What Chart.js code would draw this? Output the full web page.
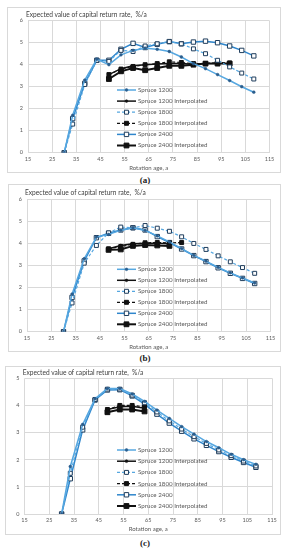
<!DOCTYPE html>
<html><head><meta charset="utf-8">
<script src="https://cdn.jsdelivr.net/npm/chart.js@4"></script>
<style>
html,body{margin:0;padding:0;background:#fff;width:291px;height:550px;overflow:hidden;position:relative}
.box{position:absolute;border:1px solid #d9d9d9;box-sizing:border-box}
canvas{position:absolute}
.ttl{position:absolute;font-family:Lato,sans-serif;font-size:6.6px;color:#404040;white-space:pre;line-height:8px;height:8px}
.cap{position:absolute;font-family:'Liberation Serif',serif;font-weight:bold;font-size:9px;color:#222;width:40px;text-align:center;line-height:10px;height:10px}
</style></head><body>
<script>
// ---------------- DATA ----------------
const chartTitle = 'Expected value of capital return rate,  %/a';
const xAxisTitle = 'Rotation age, a';
const seriesNames = ['Spruce 1200','Spruce 1200 Interpolated','Spruce 1800','Spruce 1800 Interpolated','Spruce 2400','Spruce 2400 Interpolated'];
const panelLabels = ['(a)','(b)','(c)'];
const xTicks = [15,25,35,45,55,65,75,85,95,105,115];
const yTicksAB = [0,1,2,3,4,5,6];
const yTicksC = [0,1,2,3,4,5];

const ages = [30,33.5,38.5,43.5,48.5,53.5,58.5,63.5,68.5,73.5,78.5,83.5,88.5,93.5,98.5,103.5,108.5];

// panel (a)
const a1200 = [0,1.7,3.3,4.25,4.0,4.45,4.65,4.75,4.7,4.6,4.35,4.05,3.82,3.55,3.28,3.0,2.75];
const a1800 = [0,1.3,3.1,4.2,4.15,4.65,4.6,4.85,4.95,5.05,4.95,4.72,4.5,4.2,3.9,3.62,3.35];
const a2400 = [0,1.55,3.15,4.2,4.2,4.7,4.97,4.78,4.93,5.05,4.95,5.03,5.07,5.0,4.85,4.65,4.4];
const a1200iAges = [48.5,53.5,58.5,63.5,68.5,73.5,78.5,83.5];
const a1200i = [3.55,3.82,3.95,4.0,4.03,4.05,4.05,4.02];
const a1800iAges = [48.5,53.5,58.5,63.5,68.5,73.5,78.5,83.5,88.5,93.5,98.5];
const a1800i = [3.55,3.8,3.92,4.0,4.05,4.13,4.1,4.05,4.05,4.1,4.08];
const a2400iAges = [48.5,53.5,58.5,63.5,68.5,73.5,78.5,83.5,88.5,93.5,98.5];
const a2400i = [3.35,3.7,3.85,3.75,3.85,3.95,3.95,4.0,4.05,4.05,4.05];

// panel (b)
const b1200 = [0,1.7,3.3,4.28,4.4,4.58,4.7,4.58,4.33,4.06,3.76,3.45,3.19,2.91,2.66,2.43,2.2];
const b1800 = [0,1.3,3.1,3.9,4.47,4.73,4.7,4.8,4.68,4.54,4.29,3.99,3.72,3.43,3.16,2.9,2.64];
const b2400 = [0,1.55,3.2,4.25,4.45,4.6,4.7,4.6,4.3,4.03,3.74,3.44,3.17,2.89,2.64,2.41,2.18];
const b1200iAges = [48.5,53.5,58.5,63.5,68.5,73.5];
const b1200i = [3.75,3.9,3.98,4.0,4.0,3.98];
const b1800iAges = [48.5,53.5,58.5,63.5,68.5,73.5,78.5];
const b1800i = [3.75,3.85,3.95,4.02,4.03,4.02,4.03];
const b2400iAges = [48.5,53.5,58.5,63.5,68.5,73.5];
const b2400i = [3.7,3.72,3.88,3.92,3.9,3.88];

// panel (c)
const c1200 = [0,1.75,3.3,4.25,4.62,4.62,4.42,4.15,3.83,3.52,3.22,2.94,2.67,2.44,2.2,2.0,1.83];
const c1800 = [0,1.5,3.2,4.22,4.6,4.6,4.38,4.1,3.76,3.43,3.13,2.85,2.6,2.36,2.15,1.95,1.77];
const c2400 = [0,1.3,3.1,4.2,4.57,4.58,4.35,4.05,3.68,3.35,3.05,2.77,2.53,2.3,2.09,1.9,1.72];
const cIAges = [48.5,53.5,58.5,63.5];
const c1200i = [3.85,3.95,3.97,3.9];
const c1800i = [3.85,4.0,4.0,3.95];
const c2400i = [3.75,3.85,3.85,3.78];

// ---------------- STYLES / LAYOUT ----------------
const blueL = '#56a7e0', blueD = '#2f86cc', sqEdge = '#1f3d5c', blk = '#111111';
const styles = [
  {borderColor:blueL, borderWidth:1.5, borderDash:[], pointStyle:'circle', pointRadius:1.4, pointBackgroundColor:'#2a5d8c', pointBorderColor:'#2a5d8c', pointBorderWidth:0.5},
  {borderColor:blk, borderWidth:1.5, borderDash:[], pointStyle:'circle', pointRadius:1.4, pointBackgroundColor:blk, pointBorderColor:blk, pointBorderWidth:0.5},
  {borderColor:blueL, borderWidth:1.2, borderDash:[3,2], pointStyle:'rect', pointRadius:2.8, pointBackgroundColor:'#ffffff', pointBorderColor:sqEdge, pointBorderWidth:1},
  {borderColor:blk, borderWidth:1.2, borderDash:[3,2], pointStyle:'rect', pointRadius:2.8, pointBackgroundColor:blk, pointBorderColor:blk, pointBorderWidth:1},
  {borderColor:blueD, borderWidth:1.5, borderDash:[], pointStyle:'rect', pointRadius:3.1, pointBackgroundColor:'#ffffff', pointBorderColor:sqEdge, pointBorderWidth:1},
  {borderColor:blk, borderWidth:2, borderDash:[], pointStyle:'rect', pointRadius:3.4, pointBackgroundColor:blk, pointBorderColor:blk, pointBorderWidth:1}
];

const panels = [
  {box:{l:7,t:7,w:274,h:166}, area:{l:28,r:269.5,t:20.7,b:152.7}, yTicks:yTicksAB, titleAt:{x:26,y:14}, capY:180, axTitleY:168, legend:{x:117,y:90,dy:11.1},
   series:[[ages,a1200],[a1200iAges,a1200i],[ages,a1800],[a1800iAges,a1800i],[ages,a2400],[a2400iAges,a2400i]]},
  {box:{l:8,t:184,w:273,h:168}, area:{l:27,r:270.5,t:199,b:331.7}, yTicks:yTicksAB, titleAt:{x:25,y:191.7}, capY:358, axTitleY:347, legend:{x:117,y:269.3,dy:11},
   series:[[ages,b1200],[b1200iAges,b1200i],[ages,b1800],[b1800iAges,b1800i],[ages,b2400],[b2400iAges,b2400i]]},
  {box:{l:5,t:366,w:276,h:169}, area:{l:24.5,r:272,t:378.3,b:514}, yTicks:yTicksC, titleAt:{x:22.7,y:372}, capY:543, axTitleY:529.5, legend:{x:117,y:450,dy:11.2},
   series:[[ages,c1200],[cIAges,c1200i],[ages,c1800],[cIAges,c1800i],[ages,c2400],[cIAges,c2400i]]}
];

const legendPlugin = {
  id:'insideLegend',
  afterDraw(chart, args, opts){
    const ctx = chart.ctx;
    ctx.save();
    chart.data.datasets.forEach((ds,i)=>{
      const y = opts.y + i*opts.dy, x0 = opts.x, x1 = opts.x + 19, xm = (x0+x1)/2;
      ctx.beginPath();
      ctx.setLineDash(ds.borderDash||[]);
      ctx.strokeStyle = ds.borderColor; ctx.lineWidth = ds.borderWidth;
      ctx.moveTo(x0,y); ctx.lineTo(x1,y); ctx.stroke();
      ctx.setLineDash([]);
      ctx.fillStyle = ds.pointBackgroundColor; ctx.strokeStyle = ds.pointBorderColor; ctx.lineWidth = ds.pointBorderWidth;
      if (ds.pointStyle==='rect'){
        const s = ds.pointRadius*Math.SQRT1_2;
        ctx.beginPath(); ctx.rect(xm-s,y-s,2*s,2*s); ctx.fill(); ctx.stroke();
      } else {
        ctx.beginPath(); ctx.arc(xm,y,ds.pointRadius,0,Math.PI*2); ctx.fill(); ctx.stroke();
      }
      ctx.fillStyle = '#595959'; ctx.font = '6.2px Lato, sans-serif';
      ctx.textAlign = 'left'; ctx.textBaseline = 'middle';
      ctx.fillText(ds.label, x1+2, y);
    });
    ctx.restore();
  }
};

panels.forEach((p,pi)=>{
  const bx = document.createElement('div');
  bx.className='box';
  Object.assign(bx.style,{left:p.box.l+'px',top:p.box.t+'px',width:p.box.w+'px',height:p.box.h+'px'});
  document.body.appendChild(bx);
  const cv = document.createElement('canvas');
  cv.width = p.box.w; cv.height = p.box.h;
  Object.assign(cv.style,{left:p.box.l+'px',top:p.box.t+'px',width:p.box.w+'px',height:p.box.h+'px'});
  document.body.appendChild(cv);

  const t = document.createElement('div'); t.className='ttl'; t.textContent = chartTitle;
  Object.assign(t.style,{left:p.titleAt.x+'px',top:(p.titleAt.y-4)+'px'});
  document.body.appendChild(t);
  const c = document.createElement('div'); c.className='cap'; c.textContent = panelLabels[pi];
  Object.assign(c.style,{left:(145-20)+'px',top:(p.capY-5)+'px'});
  document.body.appendChild(c);

  const yW = p.area.l - p.box.l;
  const xH = p.box.h - (p.area.b - p.box.t);
  const padTop = p.area.t - p.box.t;
  const padRight = p.box.w - (p.area.r - p.box.l);
  const axBottomPad = (p.box.t + p.box.h) - p.axTitleY - 3.6;

  const datasets = p.series.map((s,i)=>Object.assign({
    label: seriesNames[i],
    data: s[0].map((x,k)=>({x:x,y:s[1][k]})),
    fill:false, tension:0, pointHoverRadius:0
  }, styles[i]));

  new Chart(cv,{
    type:'line',
    data:{datasets},
    options:{
      responsive:false, animation:false, devicePixelRatio:1,
      layout:{padding:{left:0,top:padTop,right:padRight,bottom:0}},
      plugins:{legend:{display:false}, tooltip:{enabled:false},
        insideLegend:{x:p.legend.x - p.box.l, y:p.legend.y - p.box.t, dy:p.legend.dy}},
      scales:{
        x:{type:'linear', min:xTicks[0], max:xTicks[xTicks.length-1],
           afterBuildTicks:(sc)=>{sc.ticks = xTicks.map(v=>({value:v}));},
           afterFit:(sc)=>{sc.height = xH;},
           grid:{color:'#d9d9d9', lineWidth:1, drawTicks:false},
           border:{color:'#d9d9d9'},
           ticks:{color:'#595959', font:{family:'Lato', size:5.5}, padding:3, maxRotation:0, autoSkip:false},
           title:{display:true, text:xAxisTitle, color:'#595959', font:{family:'Lato', size:6}, padding:{top:0,bottom:axBottomPad}}},
        y:{type:'linear', min:p.yTicks[0], max:p.yTicks[p.yTicks.length-1],
           afterBuildTicks:(sc)=>{sc.ticks = p.yTicks.map(v=>({value:v}));},
           afterFit:(sc)=>{sc.width = yW;},
           grid:{color:'#d9d9d9', lineWidth:1, drawTicks:false},
           border:{display:false},
           ticks:{color:'#595959', font:{family:'Lato', size:5.5}, padding:5}}
      }
    },
    plugins:[legendPlugin]
  });
});
</script>
</body></html>
